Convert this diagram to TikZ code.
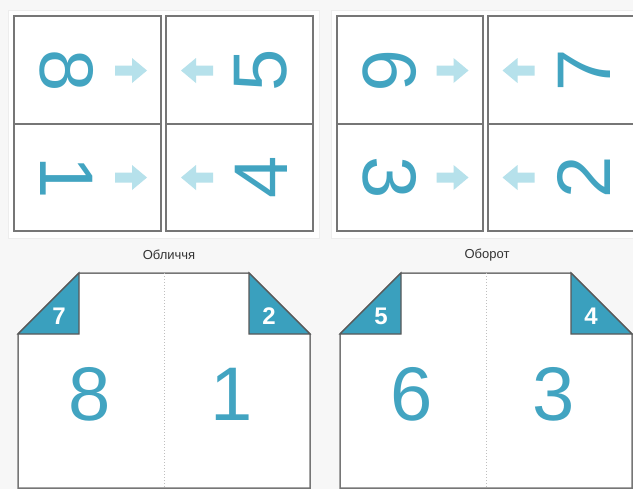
\documentclass[tikz,border=0pt]{standalone}
\usepackage{fontspec}
\setmainfont{Liberation Sans}
\usepackage{tikz}
\usetikzlibrary{positioning}
\definecolor{pageteal}{RGB}{66,164,193}
\definecolor{cornerteal}{RGB}{58,160,190}
\definecolor{arrowblue}{RGB}{182,225,235}
\definecolor{framegray}{RGB}{118,118,118}
\definecolor{bggray}{RGB}{247,247,247}
\tikzstyle{sheet}=[fill=white,draw=black!7,line width=0.5pt]
\tikzstyle{pagebox}=[draw=framegray,line width=0.75pt,fill=white]
\tikzstyle{bignum}=[text=pageteal,inner sep=0pt,font=\fontsize{38}{38}\selectfont]
\tikzstyle{cornernum}=[text=white,inner sep=0pt,font=\bfseries\fontsize{12}{12}\selectfont]
\tikzstyle{sidecap}=[text=black!80,inner sep=0pt,font=\fontsize{6.5}{7}\selectfont]
\tikzstyle{fold}=[draw=black!25,densely dotted,line width=0.5pt]
\tikzstyle{corner}=[fill=cornerteal,draw=black!65,line width=0.6pt]
\tikzset{pics/foldarrow/.style={code={
  \fill[arrowblue] (-16,-5) -- (1,-5) -- (1,-12.5) -- (16,0) -- (1,12.5) -- (1,5) -- (-16,5) -- cycle;}}}

\begin{document}
\begin{tikzpicture}[x=0.5pt,y=0.5pt]
  \useasboundingbox (0,0) rectangle (633,489);
  \clip (0,0) rectangle (633,489);
  \fill[bggray] (0,0) rectangle (633,489);

  % imposition sheets
  \draw[sheet] (8,251) rectangle (319,479);
  \draw[sheet] (331,251) rectangle (645,479);

  \draw[pagebox] (14,258) rectangle (161,473);
  \draw[pagebox] (166,258) rectangle (313,473);
  \draw[pagebox] (337,258) rectangle (483,473);
  \draw[pagebox] (488,258) rectangle (636,473);
  \draw[framegray,line width=0.75pt] (14,365) -- (161,365) (166,365) -- (313,365);
  \draw[framegray,line width=0.75pt] (337,365) -- (483,365) (488,365) -- (636,365);

  \node[bignum,rotate=-90] (s8) at (66.5,418.5) {8};
  \node[bignum,rotate=90] (s5) at (261,418.5) {5};
  \node[bignum,rotate=-90] (s1) at (66.5,311.5) {1};
  \node[bignum,rotate=90] (s4) at (261,311.5) {4};
  \node[bignum,rotate=-90] (s6) at (389.5,418.5) {6};
  \node[bignum,rotate=90] (s7) at (584,418.5) {7};
  \node[bignum,rotate=-90] (s3) at (389.5,311.5) {3};
  \node[bignum,rotate=90] (s2) at (584,311.5) {2};

  \pic at (131,418.5) {foldarrow};
  \pic at (131,311.5) {foldarrow};
  \pic[xscale=-1] at (197,418.5) {foldarrow};
  \pic[xscale=-1] at (197,311.5) {foldarrow};
  \pic at (452.5,418.5) {foldarrow};
  \pic at (452.5,311.5) {foldarrow};
  \pic[xscale=-1] at (518.5,418.5) {foldarrow};
  \pic[xscale=-1] at (518.5,311.5) {foldarrow};

  % folded booklet, front and back
  \node[sidecap] (front) at (169,234) {Обличчя};
  \node[sidecap] (back) at (487,234) {Оборот};

  \draw[pagebox] (18,1) -- (18,155) -- (79,216) -- (249,216) -- (310,155) -- (310,1) -- cycle;
  \draw[fold] (164,216) -- (164,1);
  \filldraw[corner] (18,155) -- (79,216) -- (79,155) -- cycle;
  \filldraw[corner] (249,216) -- (310,155) -- (249,155) -- cycle;
  \node[cornernum] (c7) at (59,173) {7};
  \node[cornernum] (c2) at (269,173) {2};
  \node[bignum] (p8) at (90,94.5) {8};
  \node[bignum] (p1) at (232,94.5) {1};

  \draw[pagebox] (340,1) -- (340,155) -- (401,216) -- (571,216) -- (632,155) -- (632,1) -- cycle;
  \draw[fold] (486,216) -- (486,1);
  \filldraw[corner] (340,155) -- (401,216) -- (401,155) -- cycle;
  \filldraw[corner] (571,216) -- (632,155) -- (571,155) -- cycle;
  \node[cornernum] (c5) at (381,173) {5};
  \node[cornernum] (c4) at (591,173) {4};
  \node[bignum] (p6) at (412,94.5) {6};
  \node[bignum] (p3) at (554,94.5) {3};
\end{tikzpicture}
\end{document}
